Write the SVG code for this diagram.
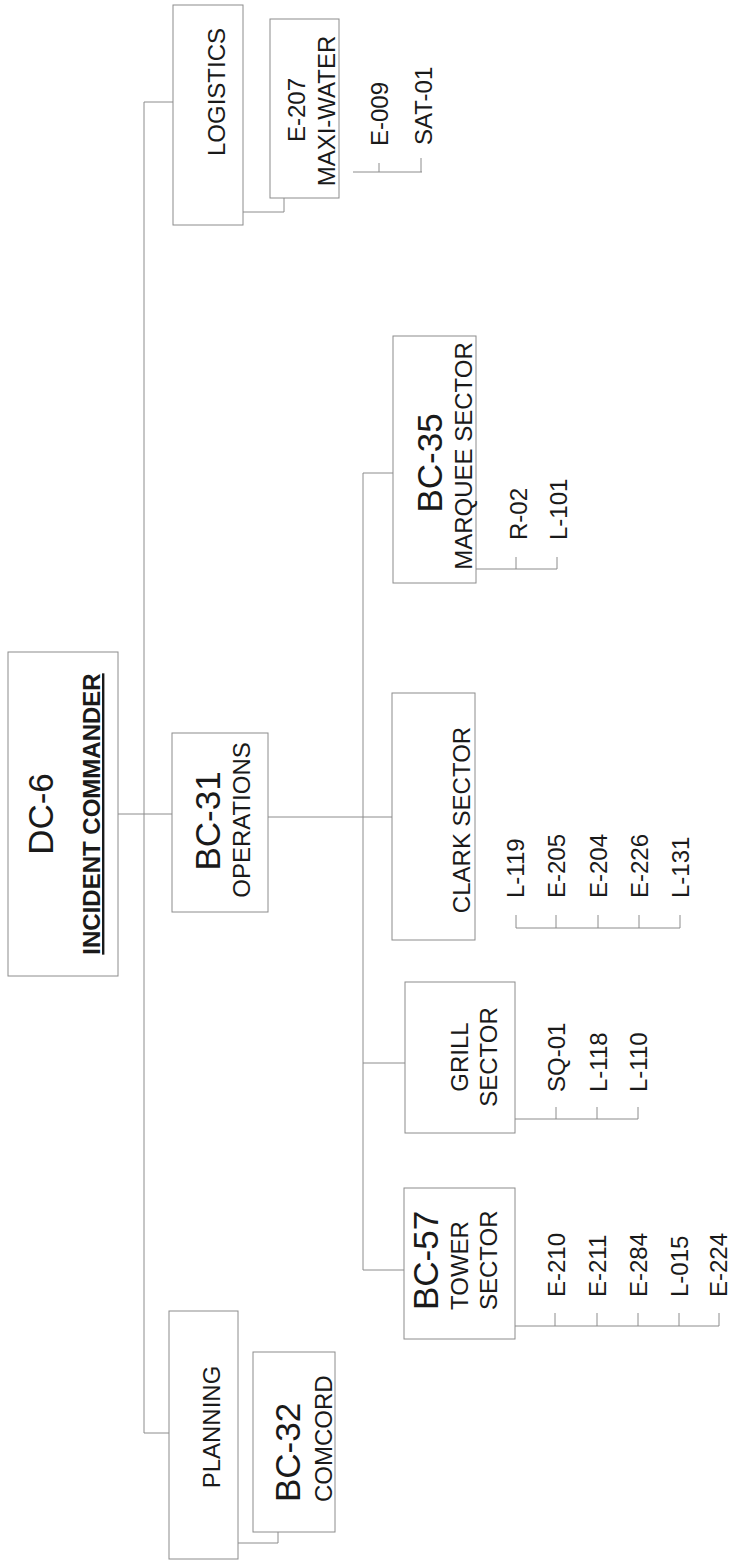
<svg xmlns="http://www.w3.org/2000/svg" width="730" height="1562" viewBox="0 0 730 1562">
<style>
.box{fill:#fff;stroke:#8c8c8c;stroke-width:1}
.ln{fill:none;stroke:#8c8c8c;stroke-width:1}
text{font-family:"Liberation Sans",Arial,sans-serif;fill:#1a1a1a}
.big{font-size:35px}
.med{font-size:24px}
.ic{font-size:24px;font-weight:bold;text-decoration:underline}
.m{text-anchor:middle}
</style>
<rect width="730" height="1562" fill="#fff"/>
<g id="connectors">
<path class="ln" d="M144,102 V1433"/>
<path class="ln" d="M144,102 H173"/>
<path class="ln" d="M144,1433 H169"/>
<path class="ln" d="M118,814 H172"/>
<path class="ln" d="M243,212 H284 V198"/>
<path class="ln" d="M353,172 H422 M379,163 V172 M421,158 V172"/>
<path class="ln" d="M238,1543 H278 V1532"/>
<path class="ln" d="M268,817 H392"/>
<path class="ln" d="M363,473 V1270"/>
<path class="ln" d="M363,473 H393"/>
<path class="ln" d="M363,1063 H405"/>
<path class="ln" d="M363,1270 H404"/>
<path class="ln" d="M476,569 H557 M516,557 V569 M557,557 V569"/>
<path class="ln" d="M516,928 H680 M516,915 V928 M556,915 V928 M598,915 V928 M639,915 V928 M680,915 V928"/>
<path class="ln" d="M515,1119 H638 M556,1107 V1119 M597,1107 V1119 M638,1107 V1119"/>
<path class="ln" d="M515,1326 H719 M555,1313 V1326 M597,1313 V1326 M638,1313 V1326 M679,1313 V1326 M719,1313 V1326"/>
</g>
<g id="dc6">
<rect class="box" x="8" y="652" width="110" height="324"/>
<text class="big m" transform="translate(53,814) rotate(-90)">DC-6</text>
<text class="ic m" transform="translate(100,814) rotate(-90)">INCIDENT COMMANDER</text>
</g>
<g id="logistics">
<rect class="box" x="173" y="5" width="70" height="220"/>
<text class="med m" transform="translate(225,92) rotate(-90)">LOGISTICS</text>
</g>
<g id="e207">
<rect class="box" x="270" y="19" width="69" height="179"/>
<text class="med m" transform="translate(305,110) rotate(-90)">E-207</text>
<text class="med m" transform="translate(335,111) rotate(-90)">MAXI-WATER</text>
</g>
<g id="e009"><text class="med" transform="translate(388,146) rotate(-90)">E-009</text></g>
<g id="sat01"><text class="med" transform="translate(432,145) rotate(-90)">SAT-01</text></g>
<g id="bc31">
<rect class="box" x="172" y="733" width="96" height="179"/>
<text class="big m" transform="translate(220,821) rotate(-90)">BC-31</text>
<text class="med m" transform="translate(250,820) rotate(-90)">OPERATIONS</text>
</g>
<g id="planning">
<rect class="box" x="169" y="1311" width="69" height="248"/>
<text class="med m" transform="translate(220,1427) rotate(-90)">PLANNING</text>
</g>
<g id="bc32">
<rect class="box" x="253" y="1352" width="82" height="180"/>
<text class="big" transform="translate(300,1502) rotate(-90)">BC-32</text>
<text class="med" transform="translate(332,1502) rotate(-90)">COMCORD</text>
</g>
<g id="bc35">
<rect class="box" x="393" y="336" width="83" height="247"/>
<text class="big m" transform="translate(442,463) rotate(-90)">BC-35</text>
<text class="med m" transform="translate(472,456) rotate(-90)">MARQUEE SECTOR</text>
</g>
<g id="r02"><text class="med" transform="translate(527,540) rotate(-90)">R-02</text></g>
<g id="l101"><text class="med" transform="translate(567,540) rotate(-90)">L-101</text></g>
<g id="clark">
<rect class="box" x="392" y="693" width="83" height="247"/>
<text class="med m" transform="translate(470,820) rotate(-90)">CLARK SECTOR</text>
</g>
<g id="l119"><text class="med" transform="translate(524,898) rotate(-90)">L-119</text></g>
<g id="e205"><text class="med" transform="translate(565,898) rotate(-90)">E-205</text></g>
<g id="e204"><text class="med" transform="translate(607,898) rotate(-90)">E-204</text></g>
<g id="e226"><text class="med" transform="translate(648,898) rotate(-90)">E-226</text></g>
<g id="l131"><text class="med" transform="translate(689,898) rotate(-90)">L-131</text></g>
<g id="grill">
<rect class="box" x="405" y="982" width="110" height="151"/>
<text class="med m" transform="translate(468,1057) rotate(-90)">GRILL</text>
<text class="med m" transform="translate(497,1057) rotate(-90)">SECTOR</text>
</g>
<g id="sq01"><text class="med" transform="translate(565,1092) rotate(-90)">SQ-01</text></g>
<g id="l118"><text class="med" transform="translate(607,1092) rotate(-90)">L-118</text></g>
<g id="l110"><text class="med" transform="translate(647,1092) rotate(-90)">L-110</text></g>
<g id="bc57">
<rect class="box" x="404" y="1188" width="111" height="151"/>
<text class="big" transform="translate(438,1310) rotate(-90)">BC-57</text>
<text class="med" transform="translate(468,1310) rotate(-90)">TOWER</text>
<text class="med" transform="translate(497,1310) rotate(-90)">SECTOR</text>
</g>
<g id="e210"><text class="med" transform="translate(565,1297) rotate(-90)">E-210</text></g>
<g id="e211"><text class="med" transform="translate(606,1297) rotate(-90)">E-211</text></g>
<g id="e284"><text class="med" transform="translate(647,1297) rotate(-90)">E-284</text></g>
<g id="l015"><text class="med" transform="translate(688,1297) rotate(-90)">L-015</text></g>
<g id="e224"><text class="med" transform="translate(727,1297) rotate(-90)">E-224</text></g>
</svg>
